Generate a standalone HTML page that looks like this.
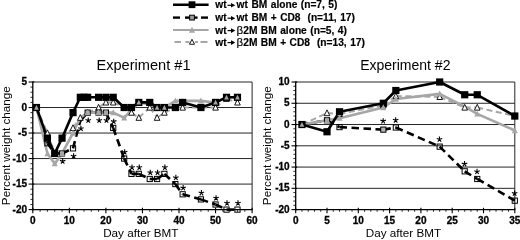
<!DOCTYPE html>
<html><head><meta charset="utf-8"><title>Figure</title>
<style>
html,body{margin:0;padding:0;background:#fff;}
body{width:520px;height:240px;overflow:hidden;}
svg{display:block;filter:grayscale(1) blur(0.35px);font-family:'Liberation Sans', sans-serif;fill:#000;}
</style></head><body>
<svg width="520" height="240" viewBox="0 0 520 240" style="font-family:'Liberation Sans',sans-serif">
<rect x="0" y="0" width="520" height="240" fill="#fff"/>
<line x1="32.8" x2="252.1" y1="82.00" y2="82.00" stroke="#262626" stroke-width="1"/>
<line x1="32.8" x2="252.1" y1="107.52" y2="107.52" stroke="#262626" stroke-width="1"/>
<line x1="32.8" x2="252.1" y1="133.04" y2="133.04" stroke="#262626" stroke-width="1"/>
<line x1="32.8" x2="252.1" y1="158.56" y2="158.56" stroke="#262626" stroke-width="1"/>
<line x1="32.8" x2="252.1" y1="184.08" y2="184.08" stroke="#262626" stroke-width="1"/>
<line x1="252.1" x2="252.1" y1="82.0" y2="209.6" stroke="#262626" stroke-width="1"/>
<line x1="32.8" x2="32.8" y1="81.5" y2="210.2" stroke="#000" stroke-width="1.3"/>
<line x1="32.199999999999996" x2="252.6" y1="209.6" y2="209.6" stroke="#000" stroke-width="1.3"/>
<line x1="28.599999999999998" x2="34.3" y1="209.60" y2="209.60" stroke="#000" stroke-width="1.1"/>
<line x1="30.4" x2="32.8" y1="204.50" y2="204.50" stroke="#000" stroke-width="0.8"/>
<line x1="30.4" x2="32.8" y1="199.39" y2="199.39" stroke="#000" stroke-width="0.8"/>
<line x1="30.4" x2="32.8" y1="194.29" y2="194.29" stroke="#000" stroke-width="0.8"/>
<line x1="30.4" x2="32.8" y1="189.18" y2="189.18" stroke="#000" stroke-width="0.8"/>
<line x1="28.599999999999998" x2="34.3" y1="184.08" y2="184.08" stroke="#000" stroke-width="1.1"/>
<line x1="30.4" x2="32.8" y1="178.98" y2="178.98" stroke="#000" stroke-width="0.8"/>
<line x1="30.4" x2="32.8" y1="173.87" y2="173.87" stroke="#000" stroke-width="0.8"/>
<line x1="30.4" x2="32.8" y1="168.77" y2="168.77" stroke="#000" stroke-width="0.8"/>
<line x1="30.4" x2="32.8" y1="163.66" y2="163.66" stroke="#000" stroke-width="0.8"/>
<line x1="28.599999999999998" x2="34.3" y1="158.56" y2="158.56" stroke="#000" stroke-width="1.1"/>
<line x1="30.4" x2="32.8" y1="153.46" y2="153.46" stroke="#000" stroke-width="0.8"/>
<line x1="30.4" x2="32.8" y1="148.35" y2="148.35" stroke="#000" stroke-width="0.8"/>
<line x1="30.4" x2="32.8" y1="143.25" y2="143.25" stroke="#000" stroke-width="0.8"/>
<line x1="30.4" x2="32.8" y1="138.14" y2="138.14" stroke="#000" stroke-width="0.8"/>
<line x1="28.599999999999998" x2="34.3" y1="133.04" y2="133.04" stroke="#000" stroke-width="1.1"/>
<line x1="30.4" x2="32.8" y1="127.94" y2="127.94" stroke="#000" stroke-width="0.8"/>
<line x1="30.4" x2="32.8" y1="122.83" y2="122.83" stroke="#000" stroke-width="0.8"/>
<line x1="30.4" x2="32.8" y1="117.73" y2="117.73" stroke="#000" stroke-width="0.8"/>
<line x1="30.4" x2="32.8" y1="112.62" y2="112.62" stroke="#000" stroke-width="0.8"/>
<line x1="28.599999999999998" x2="34.3" y1="107.52" y2="107.52" stroke="#000" stroke-width="1.1"/>
<line x1="30.4" x2="32.8" y1="102.42" y2="102.42" stroke="#000" stroke-width="0.8"/>
<line x1="30.4" x2="32.8" y1="97.31" y2="97.31" stroke="#000" stroke-width="0.8"/>
<line x1="30.4" x2="32.8" y1="92.21" y2="92.21" stroke="#000" stroke-width="0.8"/>
<line x1="30.4" x2="32.8" y1="87.10" y2="87.10" stroke="#000" stroke-width="0.8"/>
<line x1="28.599999999999998" x2="34.3" y1="82.00" y2="82.00" stroke="#000" stroke-width="1.1"/>
<line x1="32.80" x2="32.80" y1="207.79999999999998" y2="213.29999999999998" stroke="#000" stroke-width="1.1"/>
<line x1="40.11" x2="40.11" y1="209.6" y2="211.79999999999998" stroke="#000" stroke-width="0.8"/>
<line x1="47.42" x2="47.42" y1="209.6" y2="211.79999999999998" stroke="#000" stroke-width="0.8"/>
<line x1="54.73" x2="54.73" y1="209.6" y2="211.79999999999998" stroke="#000" stroke-width="0.8"/>
<line x1="62.04" x2="62.04" y1="209.6" y2="211.79999999999998" stroke="#000" stroke-width="0.8"/>
<line x1="69.35" x2="69.35" y1="207.79999999999998" y2="213.29999999999998" stroke="#000" stroke-width="1.1"/>
<line x1="76.66" x2="76.66" y1="209.6" y2="211.79999999999998" stroke="#000" stroke-width="0.8"/>
<line x1="83.97" x2="83.97" y1="209.6" y2="211.79999999999998" stroke="#000" stroke-width="0.8"/>
<line x1="91.28" x2="91.28" y1="209.6" y2="211.79999999999998" stroke="#000" stroke-width="0.8"/>
<line x1="98.59" x2="98.59" y1="209.6" y2="211.79999999999998" stroke="#000" stroke-width="0.8"/>
<line x1="105.90" x2="105.90" y1="207.79999999999998" y2="213.29999999999998" stroke="#000" stroke-width="1.1"/>
<line x1="113.21" x2="113.21" y1="209.6" y2="211.79999999999998" stroke="#000" stroke-width="0.8"/>
<line x1="120.52" x2="120.52" y1="209.6" y2="211.79999999999998" stroke="#000" stroke-width="0.8"/>
<line x1="127.83" x2="127.83" y1="209.6" y2="211.79999999999998" stroke="#000" stroke-width="0.8"/>
<line x1="135.14" x2="135.14" y1="209.6" y2="211.79999999999998" stroke="#000" stroke-width="0.8"/>
<line x1="142.45" x2="142.45" y1="207.79999999999998" y2="213.29999999999998" stroke="#000" stroke-width="1.1"/>
<line x1="149.76" x2="149.76" y1="209.6" y2="211.79999999999998" stroke="#000" stroke-width="0.8"/>
<line x1="157.07" x2="157.07" y1="209.6" y2="211.79999999999998" stroke="#000" stroke-width="0.8"/>
<line x1="164.38" x2="164.38" y1="209.6" y2="211.79999999999998" stroke="#000" stroke-width="0.8"/>
<line x1="171.69" x2="171.69" y1="209.6" y2="211.79999999999998" stroke="#000" stroke-width="0.8"/>
<line x1="179.00" x2="179.00" y1="207.79999999999998" y2="213.29999999999998" stroke="#000" stroke-width="1.1"/>
<line x1="186.31" x2="186.31" y1="209.6" y2="211.79999999999998" stroke="#000" stroke-width="0.8"/>
<line x1="193.62" x2="193.62" y1="209.6" y2="211.79999999999998" stroke="#000" stroke-width="0.8"/>
<line x1="200.93" x2="200.93" y1="209.6" y2="211.79999999999998" stroke="#000" stroke-width="0.8"/>
<line x1="208.24" x2="208.24" y1="209.6" y2="211.79999999999998" stroke="#000" stroke-width="0.8"/>
<line x1="215.55" x2="215.55" y1="207.79999999999998" y2="213.29999999999998" stroke="#000" stroke-width="1.1"/>
<line x1="222.86" x2="222.86" y1="209.6" y2="211.79999999999998" stroke="#000" stroke-width="0.8"/>
<line x1="230.17" x2="230.17" y1="209.6" y2="211.79999999999998" stroke="#000" stroke-width="0.8"/>
<line x1="237.48" x2="237.48" y1="209.6" y2="211.79999999999998" stroke="#000" stroke-width="0.8"/>
<line x1="244.79" x2="244.79" y1="209.6" y2="211.79999999999998" stroke="#000" stroke-width="0.8"/>
<line x1="252.10" x2="252.10" y1="207.79999999999998" y2="213.29999999999998" stroke="#000" stroke-width="1.1"/>
<text x="26.999999999999996" y="85.10" font-size="10.0" font-weight="bold" stroke="#000" stroke-width="0.3" text-anchor="end">5</text>
<text x="26.999999999999996" y="110.62" font-size="10.0" font-weight="bold" stroke="#000" stroke-width="0.3" text-anchor="end">0</text>
<text x="26.999999999999996" y="136.14" font-size="10.0" font-weight="bold" stroke="#000" stroke-width="0.3" text-anchor="end">-5</text>
<text x="26.999999999999996" y="161.66" font-size="10.0" font-weight="bold" stroke="#000" stroke-width="0.3" text-anchor="end">-10</text>
<text x="26.999999999999996" y="187.18" font-size="10.0" font-weight="bold" stroke="#000" stroke-width="0.3" text-anchor="end">-15</text>
<text x="26.999999999999996" y="212.70" font-size="10.0" font-weight="bold" stroke="#000" stroke-width="0.3" text-anchor="end">-20</text>
<text x="32.80" y="223.5" font-size="10.0" font-weight="bold" stroke="#000" stroke-width="0.3" text-anchor="middle">0</text>
<text x="69.35" y="223.5" font-size="10.0" font-weight="bold" stroke="#000" stroke-width="0.3" text-anchor="middle">10</text>
<text x="105.90" y="223.5" font-size="10.0" font-weight="bold" stroke="#000" stroke-width="0.3" text-anchor="middle">20</text>
<text x="142.45" y="223.5" font-size="10.0" font-weight="bold" stroke="#000" stroke-width="0.3" text-anchor="middle">30</text>
<text x="179.00" y="223.5" font-size="10.0" font-weight="bold" stroke="#000" stroke-width="0.3" text-anchor="middle">40</text>
<text x="215.55" y="223.5" font-size="10.0" font-weight="bold" stroke="#000" stroke-width="0.3" text-anchor="middle">50</text>
<text x="252.10" y="223.5" font-size="10.0" font-weight="bold" stroke="#000" stroke-width="0.3" text-anchor="middle">60</text>
<line x1="36.45" y1="107.52" x2="47.42" y2="133.04" stroke="#a6a6a6" stroke-width="2.0" stroke-dasharray="6 3.5"/>
<line x1="47.42" y1="133.04" x2="54.73" y2="153.46" stroke="#a6a6a6" stroke-width="2.0" stroke-dasharray="6 3.5"/>
<line x1="54.73" y1="153.46" x2="62.04" y2="138.14" stroke="#a6a6a6" stroke-width="2.0" stroke-dasharray="6 3.5"/>
<line x1="62.04" y1="138.14" x2="73.00" y2="127.94" stroke="#a6a6a6" stroke-width="2.0" stroke-dasharray="6 3.5"/>
<line x1="73.00" y1="127.94" x2="80.31" y2="117.73" stroke="#a6a6a6" stroke-width="2.0" stroke-dasharray="6 3.5"/>
<line x1="80.31" y1="117.73" x2="87.62" y2="112.62" stroke="#a6a6a6" stroke-width="2.0" stroke-dasharray="6 3.5"/>
<line x1="87.62" y1="112.62" x2="98.59" y2="107.52" stroke="#a6a6a6" stroke-width="2.0" stroke-dasharray="6 3.5"/>
<line x1="98.59" y1="107.52" x2="105.90" y2="102.42" stroke="#a6a6a6" stroke-width="2.0" stroke-dasharray="6 3.5"/>
<line x1="105.90" y1="102.42" x2="113.21" y2="102.42" stroke="#a6a6a6" stroke-width="2.0" stroke-dasharray="6 3.5"/>
<line x1="113.21" y1="102.42" x2="124.17" y2="107.52" stroke="#a6a6a6" stroke-width="2.0" stroke-dasharray="6 3.5"/>
<line x1="124.17" y1="107.52" x2="131.49" y2="112.62" stroke="#a6a6a6" stroke-width="2.0" stroke-dasharray="6 3.5"/>
<line x1="131.49" y1="112.62" x2="138.80" y2="117.73" stroke="#a6a6a6" stroke-width="2.0" stroke-dasharray="6 3.5"/>
<line x1="138.80" y1="117.73" x2="149.76" y2="107.52" stroke="#a6a6a6" stroke-width="2.0" stroke-dasharray="6 3.5"/>
<line x1="149.76" y1="107.52" x2="157.07" y2="117.73" stroke="#a6a6a6" stroke-width="2.0" stroke-dasharray="6 3.5"/>
<line x1="157.07" y1="117.73" x2="164.38" y2="112.62" stroke="#a6a6a6" stroke-width="2.0" stroke-dasharray="6 3.5"/>
<line x1="164.38" y1="112.62" x2="175.35" y2="107.52" stroke="#a6a6a6" stroke-width="2.0" stroke-dasharray="6 3.5"/>
<line x1="175.35" y1="107.52" x2="182.66" y2="107.52" stroke="#a6a6a6" stroke-width="2.0" stroke-dasharray="6 3.5"/>
<line x1="182.66" y1="107.52" x2="200.93" y2="107.52" stroke="#a6a6a6" stroke-width="2.0" stroke-dasharray="6 3.5"/>
<line x1="200.93" y1="107.52" x2="215.55" y2="107.52" stroke="#a6a6a6" stroke-width="2.0" stroke-dasharray="6 3.5"/>
<line x1="215.55" y1="107.52" x2="226.51" y2="98.84" stroke="#a6a6a6" stroke-width="2.0" stroke-dasharray="6 3.5"/>
<line x1="226.51" y1="98.84" x2="237.48" y2="102.42" stroke="#a6a6a6" stroke-width="2.0" stroke-dasharray="6 3.5"/>
<line x1="36.45" y1="107.52" x2="47.42" y2="143.25" stroke="#000" stroke-width="2.6" stroke-dasharray="7.5 4.5"/>
<line x1="47.42" y1="143.25" x2="54.73" y2="153.46" stroke="#000" stroke-width="2.6" stroke-dasharray="7.5 4.5"/>
<line x1="54.73" y1="153.46" x2="62.04" y2="153.46" stroke="#000" stroke-width="2.6" stroke-dasharray="7.5 4.5"/>
<line x1="62.04" y1="153.46" x2="73.00" y2="148.35" stroke="#000" stroke-width="2.6" stroke-dasharray="7.5 4.5"/>
<line x1="73.00" y1="148.35" x2="80.31" y2="120.79" stroke="#000" stroke-width="2.6" stroke-dasharray="7.5 4.5"/>
<line x1="80.31" y1="120.79" x2="87.62" y2="112.62" stroke="#000" stroke-width="2.6" stroke-dasharray="7.5 4.5"/>
<line x1="87.62" y1="112.62" x2="98.59" y2="112.62" stroke="#000" stroke-width="2.6" stroke-dasharray="7.5 4.5"/>
<line x1="98.59" y1="112.62" x2="105.90" y2="112.62" stroke="#000" stroke-width="2.6" stroke-dasharray="7.5 4.5"/>
<line x1="105.90" y1="112.62" x2="113.21" y2="127.94" stroke="#000" stroke-width="2.6" stroke-dasharray="7.5 4.5"/>
<line x1="113.21" y1="127.94" x2="124.17" y2="158.56" stroke="#000" stroke-width="2.6" stroke-dasharray="7.5 4.5"/>
<line x1="124.17" y1="158.56" x2="131.49" y2="173.87" stroke="#000" stroke-width="2.6" stroke-dasharray="7.5 4.5"/>
<line x1="131.49" y1="173.87" x2="138.80" y2="173.87" stroke="#000" stroke-width="2.6" stroke-dasharray="7.5 4.5"/>
<line x1="138.80" y1="173.87" x2="149.76" y2="178.98" stroke="#000" stroke-width="2.6" stroke-dasharray="7.5 4.5"/>
<line x1="149.76" y1="178.98" x2="157.07" y2="178.98" stroke="#000" stroke-width="2.6" stroke-dasharray="7.5 4.5"/>
<line x1="157.07" y1="178.98" x2="164.38" y2="173.87" stroke="#000" stroke-width="2.6" stroke-dasharray="7.5 4.5"/>
<line x1="164.38" y1="173.87" x2="175.35" y2="184.08" stroke="#000" stroke-width="2.6" stroke-dasharray="7.5 4.5"/>
<line x1="175.35" y1="184.08" x2="182.66" y2="194.29" stroke="#000" stroke-width="2.6" stroke-dasharray="7.5 4.5"/>
<line x1="182.66" y1="194.29" x2="200.93" y2="199.39" stroke="#000" stroke-width="2.6" stroke-dasharray="7.5 4.5"/>
<line x1="200.93" y1="199.39" x2="215.55" y2="204.50" stroke="#000" stroke-width="2.6" stroke-dasharray="7.5 4.5"/>
<line x1="215.55" y1="204.50" x2="226.51" y2="209.60" stroke="#000" stroke-width="2.6" stroke-dasharray="7.5 4.5"/>
<line x1="226.51" y1="209.60" x2="237.48" y2="209.60" stroke="#000" stroke-width="2.6" stroke-dasharray="7.5 4.5"/>
<polyline points="36.45,107.52 47.42,153.46 54.73,163.66 62.04,153.46 73.00,133.04 80.31,117.73 87.62,112.62 98.59,112.62 105.90,112.62 113.21,112.62 124.17,117.73 131.49,110.07 138.80,102.42 149.76,104.46 157.07,107.52 164.38,107.52 175.35,100.88 182.66,100.88 200.93,100.88 215.55,102.42 226.51,97.31 237.48,97.31" fill="none" stroke="#a6a6a6" stroke-width="2.6" stroke-linejoin="round"/>
<polyline points="36.45,107.52 47.42,138.14 54.73,153.46 62.04,138.14 73.00,112.62 80.31,97.31 83.97,97.31 87.62,97.31 98.59,97.31 105.90,97.31 113.21,97.31 124.17,107.52 131.49,107.52 138.80,102.42 149.76,102.42 157.07,107.52 164.38,107.52 175.35,107.52 182.66,102.42 200.93,107.52 215.55,102.42 226.51,97.31 237.48,97.31" fill="none" stroke="#000" stroke-width="2.6" stroke-linejoin="round"/>
<path d="M36.45 104.33 L39.25 110.13 L33.66 110.13 Z" fill="#fff" stroke="#000" stroke-width="0.9" stroke-linejoin="miter"/>
<path d="M47.42 129.85 L50.22 135.65 L44.62 135.65 Z" fill="#fff" stroke="#000" stroke-width="0.9" stroke-linejoin="miter"/>
<path d="M54.73 150.27 L57.53 156.07 L51.93 156.07 Z" fill="#fff" stroke="#000" stroke-width="0.9" stroke-linejoin="miter"/>
<path d="M62.04 134.95 L64.84 140.75 L59.24 140.75 Z" fill="#fff" stroke="#000" stroke-width="0.9" stroke-linejoin="miter"/>
<path d="M73.00 124.75 L75.80 130.55 L70.20 130.55 Z" fill="#fff" stroke="#000" stroke-width="0.9" stroke-linejoin="miter"/>
<path d="M80.31 114.54 L83.11 120.34 L77.52 120.34 Z" fill="#fff" stroke="#000" stroke-width="0.9" stroke-linejoin="miter"/>
<path d="M87.62 109.43 L90.42 115.23 L84.83 115.23 Z" fill="#fff" stroke="#000" stroke-width="0.9" stroke-linejoin="miter"/>
<path d="M98.59 104.33 L101.39 110.13 L95.79 110.13 Z" fill="#fff" stroke="#000" stroke-width="0.9" stroke-linejoin="miter"/>
<path d="M105.90 99.23 L108.70 105.03 L103.10 105.03 Z" fill="#fff" stroke="#000" stroke-width="0.9" stroke-linejoin="miter"/>
<path d="M113.21 99.23 L116.01 105.03 L110.41 105.03 Z" fill="#fff" stroke="#000" stroke-width="0.9" stroke-linejoin="miter"/>
<path d="M124.17 104.33 L126.97 110.13 L121.38 110.13 Z" fill="#fff" stroke="#000" stroke-width="0.9" stroke-linejoin="miter"/>
<path d="M131.49 109.43 L134.29 115.23 L128.69 115.23 Z" fill="#fff" stroke="#000" stroke-width="0.9" stroke-linejoin="miter"/>
<path d="M138.80 114.54 L141.60 120.34 L136.00 120.34 Z" fill="#fff" stroke="#000" stroke-width="0.9" stroke-linejoin="miter"/>
<path d="M149.76 104.33 L152.56 110.13 L146.96 110.13 Z" fill="#fff" stroke="#000" stroke-width="0.9" stroke-linejoin="miter"/>
<path d="M157.07 114.54 L159.87 120.34 L154.27 120.34 Z" fill="#fff" stroke="#000" stroke-width="0.9" stroke-linejoin="miter"/>
<path d="M164.38 109.43 L167.18 115.23 L161.58 115.23 Z" fill="#fff" stroke="#000" stroke-width="0.9" stroke-linejoin="miter"/>
<path d="M175.35 104.33 L178.15 110.13 L172.55 110.13 Z" fill="#fff" stroke="#000" stroke-width="0.9" stroke-linejoin="miter"/>
<path d="M182.66 104.33 L185.46 110.13 L179.86 110.13 Z" fill="#fff" stroke="#000" stroke-width="0.9" stroke-linejoin="miter"/>
<path d="M200.93 104.33 L203.73 110.13 L198.13 110.13 Z" fill="#fff" stroke="#000" stroke-width="0.9" stroke-linejoin="miter"/>
<path d="M215.55 104.33 L218.35 110.13 L212.75 110.13 Z" fill="#fff" stroke="#000" stroke-width="0.9" stroke-linejoin="miter"/>
<path d="M226.51 95.65 L229.31 101.45 L223.71 101.45 Z" fill="#fff" stroke="#000" stroke-width="0.9" stroke-linejoin="miter"/>
<path d="M237.48 99.23 L240.28 105.03 L234.68 105.03 Z" fill="#fff" stroke="#000" stroke-width="0.9" stroke-linejoin="miter"/>
<rect x="33.85" y="104.92" width="5.2" height="5.2" fill="none" stroke="#000" stroke-width="1"/>
<rect x="44.82" y="140.65" width="5.2" height="5.2" fill="none" stroke="#000" stroke-width="1"/>
<rect x="52.13" y="150.86" width="5.2" height="5.2" fill="none" stroke="#000" stroke-width="1"/>
<rect x="59.44" y="150.86" width="5.2" height="5.2" fill="#b4b4b4" stroke="#000" stroke-width="1"/>
<rect x="70.41" y="145.75" width="5.2" height="5.2" fill="none" stroke="#000" stroke-width="1"/>
<rect x="85.03" y="110.02" width="5.2" height="5.2" fill="#b4b4b4" stroke="#000" stroke-width="1"/>
<rect x="95.99" y="110.02" width="5.2" height="5.2" fill="#b4b4b4" stroke="#000" stroke-width="1"/>
<rect x="103.30" y="110.02" width="5.2" height="5.2" fill="#b4b4b4" stroke="#000" stroke-width="1"/>
<rect x="110.61" y="125.34" width="5.2" height="5.2" fill="none" stroke="#000" stroke-width="1"/>
<rect x="121.58" y="155.96" width="5.2" height="5.2" fill="none" stroke="#000" stroke-width="1"/>
<rect x="128.89" y="171.27" width="5.2" height="5.2" fill="none" stroke="#000" stroke-width="1"/>
<rect x="136.20" y="171.27" width="5.2" height="5.2" fill="none" stroke="#000" stroke-width="1"/>
<rect x="147.16" y="176.38" width="5.2" height="5.2" fill="none" stroke="#000" stroke-width="1"/>
<rect x="154.47" y="176.38" width="5.2" height="5.2" fill="none" stroke="#000" stroke-width="1"/>
<rect x="161.78" y="171.27" width="5.2" height="5.2" fill="none" stroke="#000" stroke-width="1"/>
<rect x="172.75" y="181.48" width="5.2" height="5.2" fill="none" stroke="#000" stroke-width="1"/>
<rect x="180.06" y="191.69" width="5.2" height="5.2" fill="none" stroke="#000" stroke-width="1"/>
<rect x="198.33" y="196.79" width="5.2" height="5.2" fill="none" stroke="#000" stroke-width="1"/>
<rect x="212.95" y="201.90" width="5.2" height="5.2" fill="none" stroke="#000" stroke-width="1"/>
<rect x="223.91" y="207.00" width="5.2" height="5.2" fill="none" stroke="#000" stroke-width="1"/>
<rect x="234.88" y="207.00" width="5.2" height="5.2" fill="none" stroke="#000" stroke-width="1"/>
<rect x="32.85" y="103.92" width="7.2" height="7.2" fill="#000"/>
<rect x="43.82" y="134.54" width="7.2" height="7.2" fill="#000"/>
<rect x="51.13" y="149.86" width="7.2" height="7.2" fill="#000"/>
<rect x="58.44" y="134.54" width="7.2" height="7.2" fill="#000"/>
<rect x="69.41" y="109.02" width="7.2" height="7.2" fill="#000"/>
<rect x="76.72" y="93.71" width="7.2" height="7.2" fill="#000"/>
<rect x="80.37" y="93.71" width="7.2" height="7.2" fill="#000"/>
<rect x="84.03" y="93.71" width="7.2" height="7.2" fill="#000"/>
<rect x="94.99" y="93.71" width="7.2" height="7.2" fill="#000"/>
<rect x="102.30" y="93.71" width="7.2" height="7.2" fill="#000"/>
<rect x="109.61" y="93.71" width="7.2" height="7.2" fill="#000"/>
<rect x="120.58" y="103.92" width="7.2" height="7.2" fill="#000"/>
<rect x="127.89" y="103.92" width="7.2" height="7.2" fill="#000"/>
<rect x="135.20" y="98.82" width="7.2" height="7.2" fill="#000"/>
<rect x="146.16" y="98.82" width="7.2" height="7.2" fill="#000"/>
<rect x="153.47" y="103.92" width="7.2" height="7.2" fill="#000"/>
<rect x="160.78" y="103.92" width="7.2" height="7.2" fill="#000"/>
<rect x="171.75" y="103.92" width="7.2" height="7.2" fill="#000"/>
<rect x="179.06" y="98.82" width="7.2" height="7.2" fill="#000"/>
<rect x="197.33" y="103.92" width="7.2" height="7.2" fill="#000"/>
<rect x="211.95" y="98.82" width="7.2" height="7.2" fill="#000"/>
<rect x="222.91" y="93.71" width="7.2" height="7.2" fill="#000"/>
<rect x="233.88" y="93.71" width="7.2" height="7.2" fill="#000"/>
<path d="M36.45 104.88 L38.85 109.68 L34.05 109.68 Z" fill="#a6a6a6"/>
<path d="M47.42 150.16 L50.42 156.16 L44.42 156.16 Z" fill="#a6a6a6"/>
<path d="M54.73 160.36 L57.73 166.36 L51.73 166.36 Z" fill="#a6a6a6"/>
<path d="M62.04 150.16 L65.04 156.16 L59.04 156.16 Z" fill="#a6a6a6"/>
<path d="M73.00 129.74 L76.00 135.74 L70.00 135.74 Z" fill="#a6a6a6"/>
<path d="M87.62 109.32 L90.62 115.32 L84.62 115.32 Z" fill="#a6a6a6"/>
<path d="M98.59 109.32 L101.59 115.32 L95.59 115.32 Z" fill="#a6a6a6"/>
<path d="M105.90 109.32 L108.90 115.32 L102.90 115.32 Z" fill="#a6a6a6"/>
<path d="M113.21 109.32 L116.21 115.32 L110.21 115.32 Z" fill="#a6a6a6"/>
<path d="M124.17 114.43 L127.17 120.43 L121.17 120.43 Z" fill="#a6a6a6"/>
<path d="M138.80 99.78 L141.20 104.58 L136.40 104.58 Z" fill="#a6a6a6"/>
<path d="M157.07 104.88 L159.47 109.68 L154.67 109.68 Z" fill="#a6a6a6"/>
<path d="M164.38 104.88 L166.78 109.68 L161.98 109.68 Z" fill="#a6a6a6"/>
<path d="M175.35 97.58 L178.35 103.58 L172.35 103.58 Z" fill="#a6a6a6"/>
<path d="M200.93 97.58 L203.93 103.58 L197.93 103.58 Z" fill="#a6a6a6"/>
<path d="M215.55 99.78 L217.95 104.58 L213.15 104.58 Z" fill="#a6a6a6"/>
<path d="M226.51 94.67 L228.91 99.47 L224.11 99.47 Z" fill="#a6a6a6"/>
<path d="M237.48 94.67 L239.88 99.47 L235.08 99.47 Z" fill="#a6a6a6"/>
<path d="M62.64 161.26 L62.64 158.36 M62.64 161.26 L65.40 160.36 M62.64 161.26 L64.34 163.60 M62.64 161.26 L60.94 163.60 M62.64 161.26 L59.88 160.36" stroke="#000" stroke-width="1.1" fill="none" stroke-linecap="butt"/>
<path d="M73.60 156.15 L73.60 153.25 M73.60 156.15 L76.36 155.26 M73.60 156.15 L75.31 158.50 M73.60 156.15 L71.90 158.50 M73.60 156.15 L70.85 155.26" stroke="#000" stroke-width="1.1" fill="none" stroke-linecap="butt"/>
<path d="M80.91 128.59 L80.91 125.69 M80.91 128.59 L83.67 127.69 M80.91 128.59 L82.62 130.94 M80.91 128.59 L79.21 130.94 M80.91 128.59 L78.16 127.69" stroke="#000" stroke-width="1.1" fill="none" stroke-linecap="butt"/>
<path d="M88.22 120.42 L88.22 117.52 M88.22 120.42 L90.98 119.53 M88.22 120.42 L89.93 122.77 M88.22 120.42 L86.52 122.77 M88.22 120.42 L85.47 119.53" stroke="#000" stroke-width="1.1" fill="none" stroke-linecap="butt"/>
<path d="M99.19 120.42 L99.19 117.52 M99.19 120.42 L101.95 119.53 M99.19 120.42 L100.89 122.77 M99.19 120.42 L97.49 122.77 M99.19 120.42 L96.43 119.53" stroke="#000" stroke-width="1.1" fill="none" stroke-linecap="butt"/>
<path d="M106.50 120.42 L106.50 117.52 M106.50 120.42 L109.26 119.53 M106.50 120.42 L108.20 122.77 M106.50 120.42 L104.80 122.77 M106.50 120.42 L103.74 119.53" stroke="#000" stroke-width="1.1" fill="none" stroke-linecap="butt"/>
<path d="M113.71 121.54 L113.71 118.64 M113.71 121.54 L116.47 120.64 M113.71 121.54 L115.41 123.88 M113.71 121.54 L112.01 123.88 M113.71 121.54 L110.95 120.64" stroke="#000" stroke-width="1.1" fill="none" stroke-linecap="butt"/>
<path d="M124.67 152.16 L124.67 149.26 M124.67 152.16 L127.43 151.26 M124.67 152.16 L126.38 154.51 M124.67 152.16 L122.97 154.51 M124.67 152.16 L121.92 151.26" stroke="#000" stroke-width="1.1" fill="none" stroke-linecap="butt"/>
<path d="M131.99 167.47 L131.99 164.57 M131.99 167.47 L134.74 166.58 M131.99 167.47 L133.69 169.82 M131.99 167.47 L130.28 169.82 M131.99 167.47 L129.23 166.58" stroke="#000" stroke-width="1.1" fill="none" stroke-linecap="butt"/>
<path d="M139.30 167.47 L139.30 164.57 M139.30 167.47 L142.05 166.58 M139.30 167.47 L141.00 169.82 M139.30 167.47 L137.59 169.82 M139.30 167.47 L136.54 166.58" stroke="#000" stroke-width="1.1" fill="none" stroke-linecap="butt"/>
<path d="M150.26 172.58 L150.26 169.68 M150.26 172.58 L153.02 171.68 M150.26 172.58 L151.96 174.92 M150.26 172.58 L148.56 174.92 M150.26 172.58 L147.50 171.68" stroke="#000" stroke-width="1.1" fill="none" stroke-linecap="butt"/>
<path d="M157.57 172.58 L157.57 169.68 M157.57 172.58 L160.33 171.68 M157.57 172.58 L159.27 174.92 M157.57 172.58 L155.87 174.92 M157.57 172.58 L154.81 171.68" stroke="#000" stroke-width="1.1" fill="none" stroke-linecap="butt"/>
<path d="M164.88 167.47 L164.88 164.57 M164.88 167.47 L167.64 166.58 M164.88 167.47 L166.58 169.82 M164.88 167.47 L163.18 169.82 M164.88 167.47 L162.12 166.58" stroke="#000" stroke-width="1.1" fill="none" stroke-linecap="butt"/>
<path d="M175.85 177.68 L175.85 174.78 M175.85 177.68 L178.60 176.78 M175.85 177.68 L177.55 180.03 M175.85 177.68 L174.14 180.03 M175.85 177.68 L173.09 176.78" stroke="#000" stroke-width="1.1" fill="none" stroke-linecap="butt"/>
<path d="M183.16 187.89 L183.16 184.99 M183.16 187.89 L185.91 186.99 M183.16 187.89 L184.86 190.23 M183.16 187.89 L181.45 190.23 M183.16 187.89 L180.40 186.99" stroke="#000" stroke-width="1.1" fill="none" stroke-linecap="butt"/>
<path d="M201.43 192.99 L201.43 190.09 M201.43 192.99 L204.19 192.10 M201.43 192.99 L203.13 195.34 M201.43 192.99 L199.73 195.34 M201.43 192.99 L198.67 192.10" stroke="#000" stroke-width="1.1" fill="none" stroke-linecap="butt"/>
<path d="M216.05 198.10 L216.05 195.20 M216.05 198.10 L218.81 197.20 M216.05 198.10 L217.75 200.44 M216.05 198.10 L214.35 200.44 M216.05 198.10 L213.29 197.20" stroke="#000" stroke-width="1.1" fill="none" stroke-linecap="butt"/>
<path d="M227.01 203.20 L227.01 200.30 M227.01 203.20 L229.77 202.30 M227.01 203.20 L228.72 205.55 M227.01 203.20 L225.31 205.55 M227.01 203.20 L224.26 202.30" stroke="#000" stroke-width="1.1" fill="none" stroke-linecap="butt"/>
<path d="M237.98 203.20 L237.98 200.30 M237.98 203.20 L240.74 202.30 M237.98 203.20 L239.68 205.55 M237.98 203.20 L236.28 205.55 M237.98 203.20 L235.22 202.30" stroke="#000" stroke-width="1.1" fill="none" stroke-linecap="butt"/>
<line x1="295.7" x2="514.8" y1="82.00" y2="82.00" stroke="#262626" stroke-width="1"/>
<line x1="295.7" x2="514.8" y1="103.27" y2="103.27" stroke="#262626" stroke-width="1"/>
<line x1="295.7" x2="514.8" y1="124.53" y2="124.53" stroke="#262626" stroke-width="1"/>
<line x1="295.7" x2="514.8" y1="145.80" y2="145.80" stroke="#262626" stroke-width="1"/>
<line x1="295.7" x2="514.8" y1="167.07" y2="167.07" stroke="#262626" stroke-width="1"/>
<line x1="295.7" x2="514.8" y1="188.33" y2="188.33" stroke="#262626" stroke-width="1"/>
<line x1="514.8" x2="514.8" y1="82.0" y2="209.6" stroke="#262626" stroke-width="1"/>
<line x1="295.7" x2="295.7" y1="81.5" y2="210.2" stroke="#000" stroke-width="1.3"/>
<line x1="295.09999999999997" x2="515.3" y1="209.6" y2="209.6" stroke="#000" stroke-width="1.3"/>
<line x1="291.5" x2="297.2" y1="209.60" y2="209.60" stroke="#000" stroke-width="1.1"/>
<line x1="293.3" x2="295.7" y1="205.35" y2="205.35" stroke="#000" stroke-width="0.8"/>
<line x1="293.3" x2="295.7" y1="201.09" y2="201.09" stroke="#000" stroke-width="0.8"/>
<line x1="293.3" x2="295.7" y1="196.84" y2="196.84" stroke="#000" stroke-width="0.8"/>
<line x1="293.3" x2="295.7" y1="192.59" y2="192.59" stroke="#000" stroke-width="0.8"/>
<line x1="291.5" x2="297.2" y1="188.33" y2="188.33" stroke="#000" stroke-width="1.1"/>
<line x1="293.3" x2="295.7" y1="184.08" y2="184.08" stroke="#000" stroke-width="0.8"/>
<line x1="293.3" x2="295.7" y1="179.83" y2="179.83" stroke="#000" stroke-width="0.8"/>
<line x1="293.3" x2="295.7" y1="175.57" y2="175.57" stroke="#000" stroke-width="0.8"/>
<line x1="293.3" x2="295.7" y1="171.32" y2="171.32" stroke="#000" stroke-width="0.8"/>
<line x1="291.5" x2="297.2" y1="167.07" y2="167.07" stroke="#000" stroke-width="1.1"/>
<line x1="293.3" x2="295.7" y1="162.81" y2="162.81" stroke="#000" stroke-width="0.8"/>
<line x1="293.3" x2="295.7" y1="158.56" y2="158.56" stroke="#000" stroke-width="0.8"/>
<line x1="293.3" x2="295.7" y1="154.31" y2="154.31" stroke="#000" stroke-width="0.8"/>
<line x1="293.3" x2="295.7" y1="150.05" y2="150.05" stroke="#000" stroke-width="0.8"/>
<line x1="291.5" x2="297.2" y1="145.80" y2="145.80" stroke="#000" stroke-width="1.1"/>
<line x1="293.3" x2="295.7" y1="141.55" y2="141.55" stroke="#000" stroke-width="0.8"/>
<line x1="293.3" x2="295.7" y1="137.29" y2="137.29" stroke="#000" stroke-width="0.8"/>
<line x1="293.3" x2="295.7" y1="133.04" y2="133.04" stroke="#000" stroke-width="0.8"/>
<line x1="293.3" x2="295.7" y1="128.79" y2="128.79" stroke="#000" stroke-width="0.8"/>
<line x1="291.5" x2="297.2" y1="124.53" y2="124.53" stroke="#000" stroke-width="1.1"/>
<line x1="293.3" x2="295.7" y1="120.28" y2="120.28" stroke="#000" stroke-width="0.8"/>
<line x1="293.3" x2="295.7" y1="116.03" y2="116.03" stroke="#000" stroke-width="0.8"/>
<line x1="293.3" x2="295.7" y1="111.77" y2="111.77" stroke="#000" stroke-width="0.8"/>
<line x1="293.3" x2="295.7" y1="107.52" y2="107.52" stroke="#000" stroke-width="0.8"/>
<line x1="291.5" x2="297.2" y1="103.27" y2="103.27" stroke="#000" stroke-width="1.1"/>
<line x1="293.3" x2="295.7" y1="99.01" y2="99.01" stroke="#000" stroke-width="0.8"/>
<line x1="293.3" x2="295.7" y1="94.76" y2="94.76" stroke="#000" stroke-width="0.8"/>
<line x1="293.3" x2="295.7" y1="90.51" y2="90.51" stroke="#000" stroke-width="0.8"/>
<line x1="293.3" x2="295.7" y1="86.25" y2="86.25" stroke="#000" stroke-width="0.8"/>
<line x1="291.5" x2="297.2" y1="82.00" y2="82.00" stroke="#000" stroke-width="1.1"/>
<line x1="295.70" x2="295.70" y1="207.79999999999998" y2="213.29999999999998" stroke="#000" stroke-width="1.1"/>
<line x1="301.96" x2="301.96" y1="209.6" y2="211.79999999999998" stroke="#000" stroke-width="0.8"/>
<line x1="308.22" x2="308.22" y1="209.6" y2="211.79999999999998" stroke="#000" stroke-width="0.8"/>
<line x1="314.48" x2="314.48" y1="209.6" y2="211.79999999999998" stroke="#000" stroke-width="0.8"/>
<line x1="320.74" x2="320.74" y1="209.6" y2="211.79999999999998" stroke="#000" stroke-width="0.8"/>
<line x1="327.00" x2="327.00" y1="207.79999999999998" y2="213.29999999999998" stroke="#000" stroke-width="1.1"/>
<line x1="333.26" x2="333.26" y1="209.6" y2="211.79999999999998" stroke="#000" stroke-width="0.8"/>
<line x1="339.52" x2="339.52" y1="209.6" y2="211.79999999999998" stroke="#000" stroke-width="0.8"/>
<line x1="345.78" x2="345.78" y1="209.6" y2="211.79999999999998" stroke="#000" stroke-width="0.8"/>
<line x1="352.04" x2="352.04" y1="209.6" y2="211.79999999999998" stroke="#000" stroke-width="0.8"/>
<line x1="358.30" x2="358.30" y1="207.79999999999998" y2="213.29999999999998" stroke="#000" stroke-width="1.1"/>
<line x1="364.56" x2="364.56" y1="209.6" y2="211.79999999999998" stroke="#000" stroke-width="0.8"/>
<line x1="370.82" x2="370.82" y1="209.6" y2="211.79999999999998" stroke="#000" stroke-width="0.8"/>
<line x1="377.08" x2="377.08" y1="209.6" y2="211.79999999999998" stroke="#000" stroke-width="0.8"/>
<line x1="383.34" x2="383.34" y1="209.6" y2="211.79999999999998" stroke="#000" stroke-width="0.8"/>
<line x1="389.60" x2="389.60" y1="207.79999999999998" y2="213.29999999999998" stroke="#000" stroke-width="1.1"/>
<line x1="395.86" x2="395.86" y1="209.6" y2="211.79999999999998" stroke="#000" stroke-width="0.8"/>
<line x1="402.12" x2="402.12" y1="209.6" y2="211.79999999999998" stroke="#000" stroke-width="0.8"/>
<line x1="408.38" x2="408.38" y1="209.6" y2="211.79999999999998" stroke="#000" stroke-width="0.8"/>
<line x1="414.64" x2="414.64" y1="209.6" y2="211.79999999999998" stroke="#000" stroke-width="0.8"/>
<line x1="420.90" x2="420.90" y1="207.79999999999998" y2="213.29999999999998" stroke="#000" stroke-width="1.1"/>
<line x1="427.16" x2="427.16" y1="209.6" y2="211.79999999999998" stroke="#000" stroke-width="0.8"/>
<line x1="433.42" x2="433.42" y1="209.6" y2="211.79999999999998" stroke="#000" stroke-width="0.8"/>
<line x1="439.68" x2="439.68" y1="209.6" y2="211.79999999999998" stroke="#000" stroke-width="0.8"/>
<line x1="445.94" x2="445.94" y1="209.6" y2="211.79999999999998" stroke="#000" stroke-width="0.8"/>
<line x1="452.20" x2="452.20" y1="207.79999999999998" y2="213.29999999999998" stroke="#000" stroke-width="1.1"/>
<line x1="458.46" x2="458.46" y1="209.6" y2="211.79999999999998" stroke="#000" stroke-width="0.8"/>
<line x1="464.72" x2="464.72" y1="209.6" y2="211.79999999999998" stroke="#000" stroke-width="0.8"/>
<line x1="470.98" x2="470.98" y1="209.6" y2="211.79999999999998" stroke="#000" stroke-width="0.8"/>
<line x1="477.24" x2="477.24" y1="209.6" y2="211.79999999999998" stroke="#000" stroke-width="0.8"/>
<line x1="483.50" x2="483.50" y1="207.79999999999998" y2="213.29999999999998" stroke="#000" stroke-width="1.1"/>
<line x1="489.76" x2="489.76" y1="209.6" y2="211.79999999999998" stroke="#000" stroke-width="0.8"/>
<line x1="496.02" x2="496.02" y1="209.6" y2="211.79999999999998" stroke="#000" stroke-width="0.8"/>
<line x1="502.28" x2="502.28" y1="209.6" y2="211.79999999999998" stroke="#000" stroke-width="0.8"/>
<line x1="508.54" x2="508.54" y1="209.6" y2="211.79999999999998" stroke="#000" stroke-width="0.8"/>
<line x1="514.80" x2="514.80" y1="207.79999999999998" y2="213.29999999999998" stroke="#000" stroke-width="1.1"/>
<text x="289.59999999999997" y="85.10" font-size="10.0" font-weight="bold" stroke="#000" stroke-width="0.3" text-anchor="end">10</text>
<text x="289.59999999999997" y="106.37" font-size="10.0" font-weight="bold" stroke="#000" stroke-width="0.3" text-anchor="end">5</text>
<text x="289.59999999999997" y="127.63" font-size="10.0" font-weight="bold" stroke="#000" stroke-width="0.3" text-anchor="end">0</text>
<text x="289.59999999999997" y="148.90" font-size="10.0" font-weight="bold" stroke="#000" stroke-width="0.3" text-anchor="end">-5</text>
<text x="289.59999999999997" y="170.17" font-size="10.0" font-weight="bold" stroke="#000" stroke-width="0.3" text-anchor="end">-10</text>
<text x="289.59999999999997" y="191.43" font-size="10.0" font-weight="bold" stroke="#000" stroke-width="0.3" text-anchor="end">-15</text>
<text x="289.59999999999997" y="212.70" font-size="10.0" font-weight="bold" stroke="#000" stroke-width="0.3" text-anchor="end">-20</text>
<text x="295.70" y="223.5" font-size="10.0" font-weight="bold" stroke="#000" stroke-width="0.3" text-anchor="middle">0</text>
<text x="327.00" y="223.5" font-size="10.0" font-weight="bold" stroke="#000" stroke-width="0.3" text-anchor="middle">5</text>
<text x="358.30" y="223.5" font-size="10.0" font-weight="bold" stroke="#000" stroke-width="0.3" text-anchor="middle">10</text>
<text x="389.60" y="223.5" font-size="10.0" font-weight="bold" stroke="#000" stroke-width="0.3" text-anchor="middle">15</text>
<text x="420.90" y="223.5" font-size="10.0" font-weight="bold" stroke="#000" stroke-width="0.3" text-anchor="middle">20</text>
<text x="452.20" y="223.5" font-size="10.0" font-weight="bold" stroke="#000" stroke-width="0.3" text-anchor="middle">25</text>
<text x="483.50" y="223.5" font-size="10.0" font-weight="bold" stroke="#000" stroke-width="0.3" text-anchor="middle">30</text>
<text x="514.80" y="223.5" font-size="10.0" font-weight="bold" stroke="#000" stroke-width="0.3" text-anchor="middle">35</text>
<line x1="301.96" y1="124.53" x2="327.00" y2="113.05" stroke="#a6a6a6" stroke-width="2.0" stroke-dasharray="6 3.5"/>
<line x1="327.00" y1="113.05" x2="339.52" y2="113.90" stroke="#a6a6a6" stroke-width="2.0" stroke-dasharray="6 3.5"/>
<line x1="339.52" y1="113.90" x2="383.34" y2="105.39" stroke="#a6a6a6" stroke-width="2.0" stroke-dasharray="6 3.5"/>
<line x1="383.34" y1="105.39" x2="395.86" y2="96.04" stroke="#a6a6a6" stroke-width="2.0" stroke-dasharray="6 3.5"/>
<line x1="395.86" y1="96.04" x2="439.68" y2="96.89" stroke="#a6a6a6" stroke-width="2.0" stroke-dasharray="6 3.5"/>
<line x1="439.68" y1="96.89" x2="464.72" y2="107.52" stroke="#a6a6a6" stroke-width="2.0" stroke-dasharray="6 3.5"/>
<line x1="464.72" y1="107.52" x2="477.24" y2="107.52" stroke="#a6a6a6" stroke-width="2.0" stroke-dasharray="6 3.5"/>
<line x1="477.24" y1="107.52" x2="514.80" y2="116.03" stroke="#a6a6a6" stroke-width="2.0" stroke-dasharray="6 3.5"/>
<line x1="301.96" y1="124.53" x2="327.00" y2="120.28" stroke="#000" stroke-width="2.6" stroke-dasharray="7.5 4.5"/>
<line x1="327.00" y1="120.28" x2="339.52" y2="127.09" stroke="#000" stroke-width="2.6" stroke-dasharray="7.5 4.5"/>
<line x1="339.52" y1="127.09" x2="383.34" y2="129.64" stroke="#000" stroke-width="2.6" stroke-dasharray="7.5 4.5"/>
<line x1="383.34" y1="129.64" x2="395.86" y2="127.51" stroke="#000" stroke-width="2.6" stroke-dasharray="7.5 4.5"/>
<line x1="395.86" y1="127.51" x2="439.68" y2="146.65" stroke="#000" stroke-width="2.6" stroke-dasharray="7.5 4.5"/>
<line x1="439.68" y1="146.65" x2="464.72" y2="171.32" stroke="#000" stroke-width="2.6" stroke-dasharray="7.5 4.5"/>
<line x1="464.72" y1="171.32" x2="477.24" y2="178.98" stroke="#000" stroke-width="2.6" stroke-dasharray="7.5 4.5"/>
<line x1="477.24" y1="178.98" x2="514.80" y2="200.67" stroke="#000" stroke-width="2.6" stroke-dasharray="7.5 4.5"/>
<polyline points="301.96,124.53 327.00,120.28 339.52,118.15 383.34,107.52 395.86,99.01 439.68,93.91 464.72,106.67 477.24,113.90 514.80,130.49" fill="none" stroke="#a6a6a6" stroke-width="2.6" stroke-linejoin="round"/>
<polyline points="301.96,124.53 327.00,131.76 339.52,111.77 383.34,103.27 395.86,90.51 439.68,82.00 464.72,94.76 477.24,94.76 514.80,116.03" fill="none" stroke="#000" stroke-width="2.6" stroke-linejoin="round"/>
<path d="M301.96 121.34 L304.76 127.14 L299.16 127.14 Z" fill="#fff" stroke="#000" stroke-width="0.9" stroke-linejoin="miter"/>
<path d="M327.00 109.86 L329.80 115.66 L324.20 115.66 Z" fill="#fff" stroke="#000" stroke-width="0.9" stroke-linejoin="miter"/>
<path d="M339.52 110.71 L342.32 116.51 L336.72 116.51 Z" fill="#fff" stroke="#000" stroke-width="0.9" stroke-linejoin="miter"/>
<path d="M383.34 102.20 L386.14 108.00 L380.54 108.00 Z" fill="#fff" stroke="#000" stroke-width="0.9" stroke-linejoin="miter"/>
<path d="M395.86 92.85 L398.66 98.65 L393.06 98.65 Z" fill="#fff" stroke="#000" stroke-width="0.9" stroke-linejoin="miter"/>
<path d="M439.68 93.70 L442.48 99.50 L436.88 99.50 Z" fill="#fff" stroke="#000" stroke-width="0.9" stroke-linejoin="miter"/>
<path d="M464.72 104.33 L467.52 110.13 L461.92 110.13 Z" fill="#fff" stroke="#000" stroke-width="0.9" stroke-linejoin="miter"/>
<path d="M477.24 104.33 L480.04 110.13 L474.44 110.13 Z" fill="#fff" stroke="#000" stroke-width="0.9" stroke-linejoin="miter"/>
<path d="M514.80 112.84 L517.60 118.64 L512.00 118.64 Z" fill="#fff" stroke="#000" stroke-width="0.9" stroke-linejoin="miter"/>
<rect x="299.36" y="121.93" width="5.2" height="5.2" fill="none" stroke="#000" stroke-width="1"/>
<rect x="324.40" y="117.68" width="5.2" height="5.2" fill="#b4b4b4" stroke="#000" stroke-width="1"/>
<rect x="336.92" y="124.49" width="5.2" height="5.2" fill="none" stroke="#000" stroke-width="1"/>
<rect x="380.74" y="127.04" width="5.2" height="5.2" fill="#b4b4b4" stroke="#000" stroke-width="1"/>
<rect x="393.26" y="124.91" width="5.2" height="5.2" fill="none" stroke="#000" stroke-width="1"/>
<rect x="437.08" y="144.05" width="5.2" height="5.2" fill="none" stroke="#000" stroke-width="1"/>
<rect x="462.12" y="168.72" width="5.2" height="5.2" fill="none" stroke="#000" stroke-width="1"/>
<rect x="474.64" y="176.38" width="5.2" height="5.2" fill="none" stroke="#000" stroke-width="1"/>
<rect x="512.20" y="198.07" width="5.2" height="5.2" fill="none" stroke="#000" stroke-width="1"/>
<rect x="298.36" y="120.93" width="7.2" height="7.2" fill="#000"/>
<rect x="323.40" y="128.16" width="7.2" height="7.2" fill="#000"/>
<rect x="335.92" y="108.17" width="7.2" height="7.2" fill="#000"/>
<rect x="379.74" y="99.67" width="7.2" height="7.2" fill="#000"/>
<rect x="392.26" y="86.91" width="7.2" height="7.2" fill="#000"/>
<rect x="436.08" y="78.40" width="7.2" height="7.2" fill="#000"/>
<rect x="461.12" y="91.16" width="7.2" height="7.2" fill="#000"/>
<rect x="473.64" y="91.16" width="7.2" height="7.2" fill="#000"/>
<rect x="511.20" y="112.43" width="7.2" height="7.2" fill="#000"/>
<path d="M301.96 121.89 L304.36 126.69 L299.56 126.69 Z" fill="#a6a6a6"/>
<path d="M327.00 116.98 L330.00 122.98 L324.00 122.98 Z" fill="#a6a6a6"/>
<path d="M339.52 114.85 L342.52 120.85 L336.52 120.85 Z" fill="#a6a6a6"/>
<path d="M383.34 104.22 L386.34 110.22 L380.34 110.22 Z" fill="#a6a6a6"/>
<path d="M395.86 95.71 L398.86 101.71 L392.86 101.71 Z" fill="#a6a6a6"/>
<path d="M439.68 90.61 L442.68 96.61 L436.68 96.61 Z" fill="#a6a6a6"/>
<path d="M477.24 110.60 L480.24 116.60 L474.24 116.60 Z" fill="#a6a6a6"/>
<path d="M514.80 127.19 L517.80 133.19 L511.80 133.19 Z" fill="#a6a6a6"/>
<path d="M383.14 121.04 L383.14 118.14 M383.14 121.04 L385.90 120.14 M383.14 121.04 L384.84 123.38 M383.14 121.04 L381.44 123.38 M383.14 121.04 L380.38 120.14" stroke="#000" stroke-width="1.1" fill="none" stroke-linecap="butt"/>
<path d="M395.66 120.21 L395.66 117.31 M395.66 120.21 L398.42 119.31 M395.66 120.21 L397.36 122.56 M395.66 120.21 L393.96 122.56 M395.66 120.21 L392.90 119.31" stroke="#000" stroke-width="1.1" fill="none" stroke-linecap="butt"/>
<path d="M439.48 139.35 L439.48 136.45 M439.48 139.35 L442.24 138.45 M439.48 139.35 L441.18 141.70 M439.48 139.35 L437.78 141.70 M439.48 139.35 L436.72 138.45" stroke="#000" stroke-width="1.1" fill="none" stroke-linecap="butt"/>
<path d="M464.52 164.02 L464.52 161.12 M464.52 164.02 L467.28 163.12 M464.52 164.02 L466.22 166.37 M464.52 164.02 L462.82 166.37 M464.52 164.02 L461.76 163.12" stroke="#000" stroke-width="1.1" fill="none" stroke-linecap="butt"/>
<path d="M477.04 171.68 L477.04 168.78 M477.04 171.68 L479.80 170.78 M477.04 171.68 L478.74 174.02 M477.04 171.68 L475.34 174.02 M477.04 171.68 L474.28 170.78" stroke="#000" stroke-width="1.1" fill="none" stroke-linecap="butt"/>
<path d="M514.60 193.37 L514.60 190.47 M514.60 193.37 L517.36 192.47 M514.60 193.37 L516.30 195.71 M514.60 193.37 L512.90 195.71 M514.60 193.37 L511.84 192.47" stroke="#000" stroke-width="1.1" fill="none" stroke-linecap="butt"/>
<text x="143.5" y="69.6" font-size="14.6" text-anchor="middle">Experiment #1</text>
<text x="405.3" y="69.6" font-size="14" text-anchor="middle">Experiment #2</text>
<text x="140.8" y="236.8" font-size="11.7" text-anchor="middle">Day after BMT</text>
<text x="403.4" y="236.8" font-size="11.7" text-anchor="middle">Day after BMT</text>
<text transform="translate(9.6,145.7) rotate(-90)" font-size="11.7" text-anchor="middle">Percent weight change</text>
<text transform="translate(271.3,145.7) rotate(-90)" font-size="11.7" text-anchor="middle">Percent weight change</text>
<line x1="173.0" x2="208.6" y1="4.7" y2="4.7" stroke="#000" stroke-width="2.4"/>
<rect x="188.60" y="1.30" width="6.8" height="6.8" fill="#000"/>
<line x1="173" x2="180" y1="17.6" y2="17.6" stroke="#000" stroke-width="2.4"/>
<line x1="185" x2="197.5" y1="17.6" y2="17.6" stroke="#000" stroke-width="2.4"/>
<line x1="201" x2="208" y1="17.6" y2="17.6" stroke="#000" stroke-width="2.4"/>
<rect x="189.6" y="15.200000000000001" width="4.8" height="4.8" fill="#9a9a9a" stroke="#000" stroke-width="1"/>
<line x1="173.0" x2="208.6" y1="30.0" y2="30.0" stroke="#a6a6a6" stroke-width="2.2"/>
<path d="M192.00 26.70 L195.00 32.70 L189.00 32.70 Z" fill="#a6a6a6"/>
<line x1="174.5" x2="181" y1="42.0" y2="42.0" stroke="#a6a6a6" stroke-width="2.0"/>
<line x1="185.5" x2="189.5" y1="42.0" y2="42.0" stroke="#a6a6a6" stroke-width="2.0"/>
<line x1="195" x2="198" y1="42.0" y2="42.0" stroke="#a6a6a6" stroke-width="2.0"/>
<line x1="200.5" x2="207.5" y1="42.0" y2="42.0" stroke="#a6a6a6" stroke-width="2.0"/>
<path d="M192.00 39.25 L194.50 44.25 L189.50 44.25 Z" fill="#fff" stroke="#000" stroke-width="0.9" stroke-linejoin="miter"/>
<text x="215.3" y="8.25" font-size="10.2" font-weight="bold" stroke="#000" stroke-width="0.18">wt</text>
<path d="M227.5 5.30 H232.6" stroke="#000" stroke-width="1.15" fill="none"/>
<path d="M235.3 5.30 L231.0 3.00 L231.0 7.60 Z" fill="#000"/>
<text x="236.6" y="8.25" font-size="10.2" font-weight="bold" stroke="#000" stroke-width="0.18" word-spacing="0.65" xml:space="preserve">wt BM alone (n=7, 5)</text>
<text x="215.3" y="21.15" font-size="10.2" font-weight="bold" stroke="#000" stroke-width="0.18">wt</text>
<path d="M227.5 18.20 H232.6" stroke="#000" stroke-width="1.15" fill="none"/>
<path d="M235.3 18.20 L231.0 15.90 L231.0 20.50 Z" fill="#000"/>
<text x="236.6" y="21.15" font-size="10.2" font-weight="bold" stroke="#000" stroke-width="0.18" word-spacing="0.65" xml:space="preserve">wt BM + CD8  (n=11, 17)</text>
<text x="215.3" y="33.55" font-size="10.2" font-weight="bold" stroke="#000" stroke-width="0.18">wt</text>
<path d="M227.5 30.60 H232.6" stroke="#000" stroke-width="1.15" fill="none"/>
<path d="M235.3 30.60 L231.0 28.30 L231.0 32.90 Z" fill="#000"/>
<text x="236.6" y="33.55" font-size="10.2" font-weight="bold" stroke="#000" stroke-width="0.18" word-spacing="0.65" xml:space="preserve"><tspan font-weight="normal" font-size="11.5">β</tspan>2M BM alone (n=5, 4)</text>
<text x="215.3" y="45.55" font-size="10.2" font-weight="bold" stroke="#000" stroke-width="0.18">wt</text>
<path d="M227.5 42.60 H232.6" stroke="#000" stroke-width="1.15" fill="none"/>
<path d="M235.3 42.60 L231.0 40.30 L231.0 44.90 Z" fill="#000"/>
<text x="236.6" y="45.55" font-size="10.2" font-weight="bold" stroke="#000" stroke-width="0.18" word-spacing="0.65" xml:space="preserve"><tspan font-weight="normal" font-size="11.5">β</tspan>2M BM + CD8  (n=13, 17)</text>
</svg>
</body></html>
